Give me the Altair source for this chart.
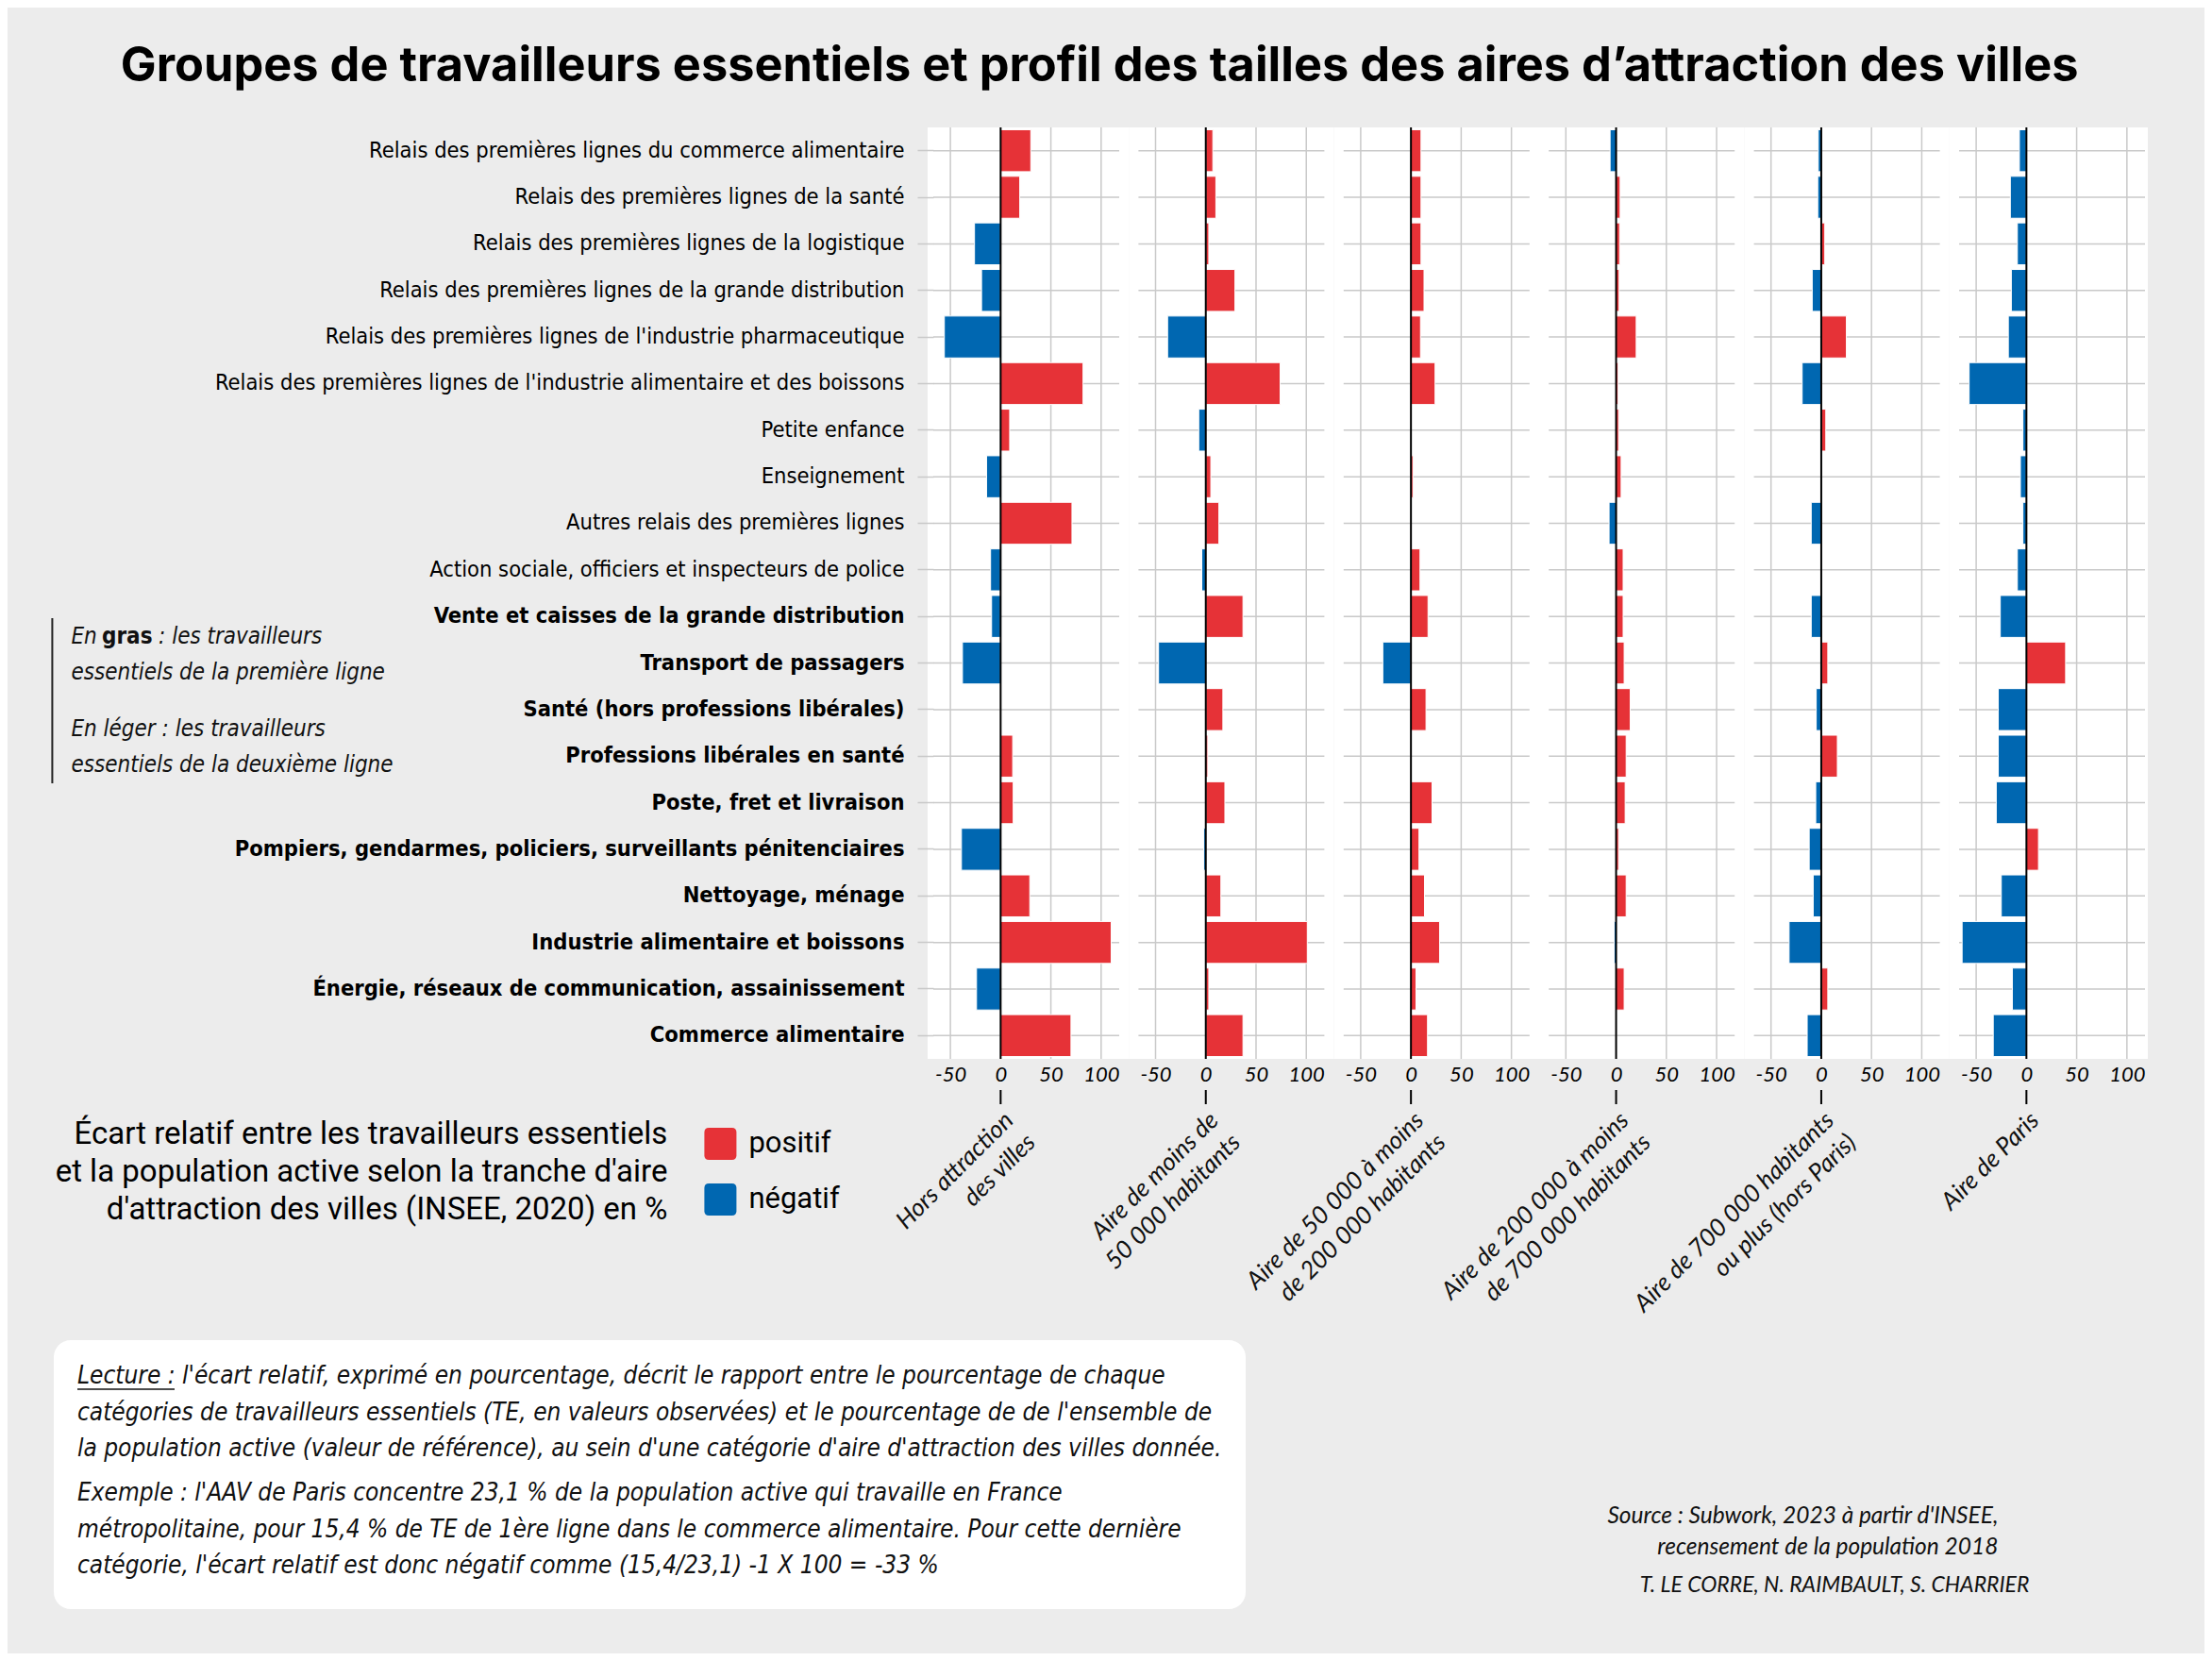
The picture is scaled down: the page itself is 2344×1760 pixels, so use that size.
import json
import altair as alt
import pandas as pd

# ---------------- data ----------------
categories = [
    "Relais des premières lignes du commerce alimentaire",
    "Relais des premières lignes de la santé",
    "Relais des premières lignes de la logistique",
    "Relais des premières lignes de la grande distribution",
    "Relais des premières lignes de l'industrie pharmaceutique",
    "Relais des premières lignes de l'industrie alimentaire et des boissons",
    "Petite enfance",
    "Enseignement",
    "Autres relais des premières lignes",
    "Action sociale, officiers et inspecteurs de police",
    "Vente et caisses de la grande distribution",
    "Transport de passagers",
    "Santé (hors professions libérales)",
    "Professions libérales en santé",
    "Poste, fret et livraison",
    "Pompiers, gendarmes, policiers, surveillants pénitenciaires",
    "Nettoyage, ménage",
    "Industrie alimentaire et boissons",
    "Énergie, réseaux de communication, assainissement",
    "Commerce alimentaire",
]
bold_categories = categories[10:]

zone_keys = ["hors", "moins50", "50_200", "200_700", "700plus", "paris"]
zone_labels = [
    ["Hors attraction", "des villes"],
    ["Aire de moins de", "50 000 habitants"],
    ["Aire de 50 000 à moins", "de 200 000 habitants"],
    ["Aire de 200 000 à moins", "de 700 000 habitants"],
    ["Aire de 700 000 habitants", "ou plus (hors Paris)"],
    ["Aire de Paris"],
]

v_hors = [30, 19, -26, -19, -56, 82, 9, -14, 71, -10, -9, -38, 0, 12, 12.5, -39, 29, 110, -24, 70]
v_moins50 = [7, 10, 3, 29, -38, 74, -7, 5, 13, -4, 37, -47, 17, 2, 19, -2, 15, 101, 3, 37]
v_50_200 = [10, 10, 10, 13, 9.5, 24, 0, 2, 0, 9, 17, -28, 15, 0, 21, 8, 13.5, 28.5, 5, 16.5]
v_200_700 = [-6, 4, 3.5, 3, 20, 2, 2.5, 5, -7, 7, 7, 8, 14, 10, 9, 2.5, 10, -2, 8, 0]
v_700plus = [-3, -3.5, 3.5, -9, 25, -19, 4.5, 0, -10, 0, -10, 6.5, -5, 16, -5.5, -12, -8, -32, 6.5, -14]
v_paris = [-7, -16, -9, -15, -18, -57, -3.5, -6, -3.5, -9, -26, 39, -28, -28, -30, 12, -25, -64, -14, -33]
series = [v_hors, v_moins50, v_50_200, v_200_700, v_700plus, v_paris]

x_ticks = [-50, 0, 50, 100]
grid_x = [-50, 50, 100]
sign_domain = ["positif", "négatif"]
sign_colors = ["#e63237", "#0067b1"]

title_text = "Groupes de travailleurs essentiels et profil des tailles des aires d\u2019attraction des villes"
legend_title = [
    "Écart relatif entre les travailleurs essentiels",
    "et la population active selon la tranche d'aire",
    "d'attraction des villes (INSEE, 2020) en %",
]
lecture_lines = [
    "Lecture : l'écart relatif, exprimé en pourcentage, décrit le rapport entre le pourcentage de chaque",
    "catégories de travailleurs essentiels (TE, en valeurs observées) et le pourcentage de de l'ensemble de",
    "la population active (valeur de référence), au sein d'une catégorie d'aire d'attraction des villes donnée.",
]
exemple_lines = [
    "Exemple : l'AAV de Paris concentre 23,1 % de la population active qui travaille en France",
    "métropolitaine, pour 15,4 % de TE de 1ère ligne dans le commerce alimentaire. Pour cette dernière",
    "catégorie, l'écart relatif est donc négatif comme (15,4/23,1) -1 X 100 = -33 %",
]
source_lines = ["Source : Subwork, 2023 à partir d'INSEE,", "recensement de la population 2018"]
authors = "T. LE CORRE, N. RAIMBAULT, S. CHARRIER"

rows = []
for zk, vals in zip(zone_keys, series):
    for c, v in zip(categories, vals):
        rows.append({"cat": c, "zone": zk, "value": v,
                     "signe": "positif" if v >= 0 else "négatif"})
df = pd.DataFrame(rows)
zero_df = pd.DataFrame({"z": [0]})
grid_df = pd.DataFrame({"g": grid_x})
one_df = pd.DataFrame({"k": [0]})

# ---------------- style ----------------
W, H = 197, 987
EXT = 10.2
SPACING = 20.4
GRID = "#c9c9c9"
COND = "DejaVu Sans Condensed, sans-serif"
GEO = "Lato, Open Sans, sans-serif"
SANS = "Roboto, sans-serif"
TITLEF = "Inter, Roboto, sans-serif"

xscale = alt.Scale(domain=[-67, 118], nice=False, zero=False)
yscale = alt.Scale(domain=categories, paddingInner=0.1, paddingOuter=0.05)

xaxis = alt.Axis(values=x_ticks, grid=False, ticks=False, domain=False,
                 labelFont=GEO, labelFontStyle="italic", labelFontSize=22,
                 labelColor="black", labelPadding=6, labelExpr="'' + datum.value",
                 labelFlush=False, labelOverlap=False)

bold_test = "indexof(" + json.dumps(bold_categories, ensure_ascii=False) + ", datum.value) >= 0"
yaxis_first = alt.Axis(domain=False, grid=False, ticks=True, tickSize=17, tickColor=GRID,
                       tickWidth=1.5, labelFont=COND, labelFontSize=23.5, labelColor="black",
                       labelPadding=14, labelLimit=1500, zindex=1,
                       labelFontWeight={"condition": {"test": bold_test, "value": "bold"},
                                        "value": "normal"})

rounded_square = ("M-0.72,-1L0.72,-1Q1,-1 1,-0.72L1,0.72Q1,1 0.72,1L-0.72,1"
                  "Q-1,1 -1,0.72L-1,-0.72Q-1,-1 -0.72,-1Z")
legend = alt.Legend(title=None, orient="none", legendX=-242.6, legendY=1060,
                    labelFont=SANS, labelFontSize=31, labelColor="black", labelOffset=13,
                    symbolType=rounded_square, symbolSize=1156, symbolStrokeWidth=0,
                    symbolOpacity=1, rowPadding=25, padding=0, labelLimit=400)


def text_at(s, x, y, **kw):
    return alt.Chart(one_df).mark_text(**kw).encode(
        x=alt.value(x), y=alt.value(y), text=alt.value(s))


def annotations():
    items = []
    # legend heading (right aligned, left of the colour keys)
    lt = dict(font=SANS, fontSize=33, color="black", align="right", baseline="middle")
    for s, y in zip(legend_title, [1067, 1107, 1147]):
        items.append(text_at(s, -281.6, y, **lt))
    # left note on bold / light labels
    items.append(alt.Chart(one_df).mark_rule(color="#222222", strokeWidth=2).encode(
        x=alt.value(-933.6), y=alt.value(520), y2=alt.value(695)))
    it = dict(font=COND, fontSize=24, fontStyle="italic", color="#111111",
              align="left", baseline="middle")
    items.append(text_at("En", -913.6, 540, **it))
    items.append(text_at("gras", -881, 540, font=COND, fontSize=24, fontWeight="bold",
                         color="#111111", align="left", baseline="middle"))
    items.append(text_at(": les travailleurs", -821, 540, **it))
    items.append(text_at("essentiels de la première ligne", -913.6, 577.5, **it))
    items.append(text_at("En léger : les travailleurs", -913.6, 638, **it))
    items.append(text_at("essentiels de la deuxième ligne", -913.6, 676, **it))
    # reading box
    items.append(alt.Chart(one_df).mark_rect(color="white", cornerRadius=18).encode(
        x=alt.value(-932), x2=alt.value(331), y=alt.value(1285), y2=alt.value(1570)))
    bt = dict(font=COND, fontSize=26, fontStyle="italic", color="#111111",
              align="left", baseline="middle")
    for s, y in zip(lecture_lines, [1323, 1362, 1400]):
        items.append(text_at(s, -907, y, **bt))
    for s, y in zip(exemple_lines, [1447, 1486, 1524]):
        items.append(text_at(s, -907, y, **bt))
    items.append(alt.Chart(one_df).mark_rule(color="#111111", strokeWidth=1.5).encode(
        x=alt.value(-907), x2=alt.value(-804), y=alt.value(1337)))
    # source
    st = dict(font=GEO, fontSize=24.5, fontStyle="italic", color="#111111",
              align="right", baseline="middle")
    items.append(text_at(source_lines[0], 1128.4, 1472, **st))
    items.append(text_at(source_lines[1], 1128.4, 1505, **st))
    items.append(text_at(authors, 1161.4, 1545, font=GEO, fontSize=23, fontStyle="italic",
                         color="#111111", align="right", baseline="middle"))
    return items


def panel(i):
    zk = zone_keys[i]
    first, last = i == 0, i == 5
    ey = alt.Y("cat:N", scale=yscale, axis=yaxis_first if first else None, title=None)
    xg = alt.X("g:Q", scale=xscale, axis=xaxis, title=None)
    xz = alt.X("z:Q", scale=xscale, axis=xaxis, title=None)
    bg = alt.Chart(one_df).mark_rect(color="white").encode(
        x=alt.value(-6 if first else -EXT), x2=alt.value(W + (3 if last else EXT)),
        y=alt.value(0), y2=alt.value(H))
    vgrid = alt.Chart(grid_df).mark_rule(color=GRID, strokeWidth=1.5).encode(x=xg)
    base = alt.Chart(df).transform_filter(alt.datum.zone == zk)
    hgrid = base.mark_rule(color=GRID, strokeWidth=1.5).encode(y=ey)
    bars = base.mark_bar(stroke="white", strokeWidth=1).encode(
        x=alt.X("value:Q", scale=xscale, axis=xaxis, title=None),
        y=ey,
        color=alt.Color("signe:N", scale=alt.Scale(domain=sign_domain, range=sign_colors),
                        legend=legend),
        tooltip=["cat:N", "value:Q"],
    )
    zero = alt.Chart(zero_df).mark_rule(color="black", strokeWidth=2).encode(x=xz)
    ztick = alt.Chart(zero_df).mark_rule(color="black", strokeWidth=2).encode(
        x=xz, y=alt.value(H + 33), y2=alt.value(H + 48))
    clabel = alt.Chart(zero_df).mark_text(
        align="right", baseline="top", angle=315, font=GEO, fontStyle="italic",
        fontSize=26, lineHeight=33, color="#111111").encode(
        x=xz, y=alt.value(H + 52), text=alt.value(zone_labels[i]))
    layers = [bg, vgrid, hgrid, bars, zero, ztick, clabel]
    if first:
        layers += annotations()
    return alt.layer(*layers).properties(width=W, height=H)


chart = alt.hconcat(*[panel(i) for i in range(6)], spacing=SPACING, bounds="flush").properties(
    title=alt.TitleParams(text=title_text, font=TITLEF, fontSize=50.5, fontWeight="bold",
                          color="black", anchor="middle", frame="bounds", offset=37.5),
    padding={"left": 46, "top": 38, "right": 60, "bottom": 47},
).configure(background="#ececec").configure_view(strokeWidth=0)

chart.save("out.html", embed_options={"renderer": "svg", "actions": False})
